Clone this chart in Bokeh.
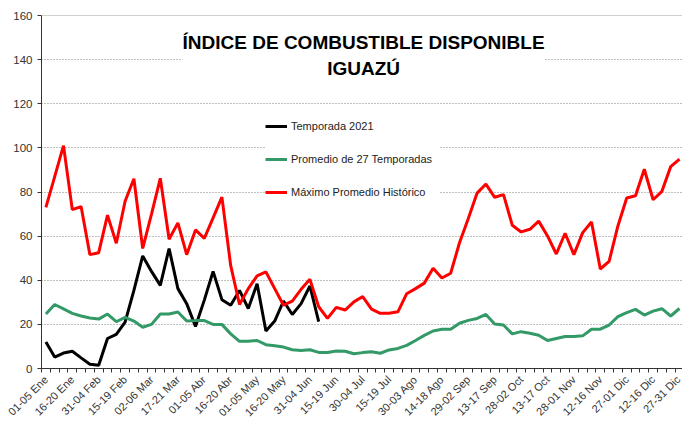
import math
from bokeh.plotting import figure
from bokeh.models import Range1d, FixedTicker, Label, Legend, LegendItem, Span
from bokeh.embed import file_html
from bokeh.resources import INLINE

# ---- data ----
pentad_labels = ["01-05 Ene", "16-20 Ene", "31-04 Feb", "15-19 Feb", "02-06 Mar", "17-21 Mar",
                 "01-05 Abr", "16-20 Abr", "01-05 May", "16-20 May", "31-04 Jun", "15-19 Jun",
                 "30-04 Jul", "15-19 Jul", "30-03 Ago", "14-18 Ago", "29-02 Sep", "13-17 Sep",
                 "28-02 Oct", "13-17 Oct", "28-01 Nov", "12-16 Nov", "27-01 Dic", "12-16 Dic",
                 "27-31 Dic"]

temporada_2021 = [12, 5.2, 7, 7.8, 4.8, 1.9, 1.5, 13.6, 15.5, 21, 35.4, 51, 44, 37.7, 54.4, 36.2,
                  29.4, 19, 31, 44, 31.2, 28.7, 35.4, 27.2, 38.4, 17, 21.5, 30.6, 24.5, 29.4, 37.4, 21.2]

promedio_27 = [24.7, 29, 27, 25, 23.8, 22.9, 22.4, 24.7, 21.2, 23.2, 21.5, 18.7, 20, 24.7, 24.7, 25.6,
               21.5, 21.7, 21.7, 20, 20, 15.7, 12.3, 12.3, 12.7, 10.8, 10.3, 9.7, 8.5, 8.2, 8.5, 7.3,
               7.3, 7.9, 7.8, 6.7, 7.2, 7.6, 6.9, 8.4, 9.1, 10.5, 12.7, 15, 17, 17.8, 17.8, 20.5,
               21.8, 22.7, 24.5, 20.2, 19.7, 15.7, 16.7, 16, 15.1, 12.7, 13.6, 14.5, 14.5, 14.8,
               17.8, 17.8, 19.7, 23.5, 25.3, 26.8, 24.2, 26, 27.1, 23.8, 27.2]

maximo_historico = [73, 87, 101, 72, 73.4, 51.6, 52.5, 69.5, 56.8, 75.8, 86, 54.4, 70, 86.2, 58.6, 66,
                    51.6, 62.8, 59, 68.3, 77.7, 46.6, 29, 36.2, 42, 43.8, 36.2, 28.7, 30.5, 35.9, 40.4,
                    28, 22.7, 27.7, 26.5, 30.2, 32.6, 26.9, 25, 25, 25.7, 33.9, 36.2, 38.7, 45.4, 41,
                    43.2, 57, 68, 79.5, 83.6, 77.6, 78.8, 64.9, 61.9, 63.1, 66.8, 60.1, 51.9, 61.3,
                    51.6, 61.6, 66.4, 45.1, 48.6, 64.6, 77.3, 78.3, 90.3, 76.5, 80.3, 91.5, 94.9]

y_ticks = list(range(0, 161, 20))
label_step = 3

FONT = "Liberation Sans"

n = len(promedio_27)
x_all = list(range(n))
x_2021 = list(range(len(temporada_2021)))

p = figure(width=682, height=425, output_backend="svg", toolbar_location=None,
           x_range=Range1d(-0.5, 72.34), y_range=Range1d(0, 160),
           min_border_left=41, min_border_right=0, min_border_top=15, min_border_bottom=53)
p.outline_line_color = None
p.background_fill_color = "white"
p.border_fill_color = "white"

r1 = p.line(x_2021, temporada_2021, line_color="black", line_width=3)
r2 = p.line(x_all, promedio_27, line_color="#339966", line_width=3)
r3 = p.line(x_all, maximo_historico, line_color="#ff0000", line_width=3)

# grid
p.xgrid.visible = False
p.ygrid.ticker = FixedTicker(ticks=y_ticks)
p.ygrid.grid_line_color = "#808080"
p.ygrid.grid_line_dash = "1 2"
p.ygrid.grid_line_width = 1
p.add_layout(Span(location=160, dimension="width", line_color="#a0a0a0", line_width=1))

# y axis
p.yaxis.ticker = FixedTicker(ticks=y_ticks)
p.yaxis.axis_line_color = "#333333"
p.yaxis.major_tick_line_color = "#333333"
p.yaxis.major_tick_out = 4
p.yaxis.major_tick_in = 0
p.yaxis.minor_tick_line_color = None
p.yaxis.major_label_text_font = FONT
p.yaxis.major_label_text_font_size = "11.5px"
p.yaxis.major_label_text_color = "#333333"
p.yaxis.major_label_standoff = 5

# x axis
label_pos = [i * label_step for i in range(len(pentad_labels))]
p.xaxis.ticker = FixedTicker(ticks=label_pos, minor_ticks=[i - 0.5 for i in range(n + 1)])
p.xaxis.major_label_overrides = {pos: lab for pos, lab in zip(label_pos, pentad_labels)}
p.xaxis.axis_line_color = "#333333"
p.xaxis.major_tick_out = 0
p.xaxis.major_tick_in = 0
p.xaxis.minor_tick_out = 4
p.xaxis.minor_tick_in = 0
p.xaxis.minor_tick_line_color = "#333333"
p.xaxis.major_label_orientation = math.pi / 4
p.xaxis.major_label_text_font = FONT
p.xaxis.major_label_text_font_size = "11px"
p.xaxis.major_label_text_color = "#333333"
p.xaxis.major_label_standoff = 5

# legend
legend = Legend(items=[LegendItem(label="Temporada 2021", renderers=[r1]),
                       LegendItem(label="Promedio de 27 Temporadas", renderers=[r2]),
                       LegendItem(label="Máximo Promedio Histórico", renderers=[r3])],
                location=(224, 166), orientation="vertical",
                padding=6, margin=0, spacing=13, glyph_width=22, glyph_height=20,
                label_height=20, label_width=148, label_standoff=4,
                label_text_font=FONT, label_text_font_size="11px", label_text_color="#222222",
                border_line_color=None, background_fill_color="white", background_fill_alpha=1)
p.add_layout(legend)

# title
title = Label(x=36.1, y=152.6, text="ÍNDICE DE COMBUSTIBLE DISPONIBLE\nIGUAZÚ",
              text_align="center", text_baseline="top", text_font=FONT,
              text_font_style="bold", text_font_size="19px", text_line_height=1.25,
              text_color="black", background_fill_color="white")
p.add_layout(title)

open("out.html", "w").write(file_html(p, INLINE))
